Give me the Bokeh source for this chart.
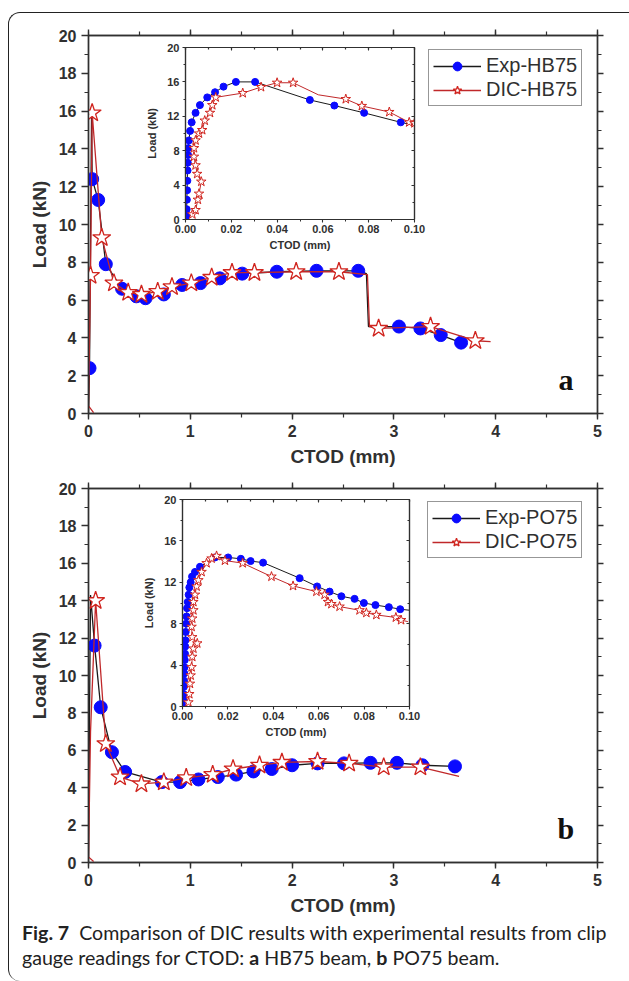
from bokeh.plotting import figure
from bokeh.models import (GridBox, Div, Legend, LegendItem, Label, LinearAxis,
                          SingleIntervalTicker, Range1d, NumeralTickFormatter)
from bokeh.embed import file_html
from bokeh.resources import INLINE

# ---------------- data ----------------
# Panel a (HB75), main chart: CTOD (mm) vs load (kN); flag 1 = point carries a marker
exp_a_x = [0.0, 0.01, 0.03, 0.036, 0.095, 0.17, 0.33, 0.47, 0.56, 0.74, 0.92, 1.10, 1.29, 1.51,
           1.85, 2.24, 2.65, 2.73, 2.75, 3.05, 3.26, 3.46, 3.66]
exp_a_y = [0.0, 2.4, 15.8, 12.4, 11.3, 7.9, 6.6, 6.2, 6.1, 6.3, 6.8, 6.9, 7.15, 7.4,
           7.5, 7.55, 7.55, 7.4, 4.6, 4.6, 4.5, 4.15, 3.75]
exp_a_m = [0, 1, 0, 1, 1, 1, 1, 1, 1, 1, 1, 1, 1, 1, 1, 1, 1, 0, 0, 1, 1, 1, 1]

dic_a_x = [0.05, 0.0, 0.02, 0.036, 0.13, 0.25, 0.39, 0.52, 0.68, 0.82, 1.01, 1.21, 1.41, 1.63,
           2.04, 2.46, 2.74, 2.76, 2.85, 3.36, 3.80, 3.95]
dic_a_y = [0.05, 0.4, 7.3, 15.9, 9.3, 6.9, 6.4, 6.3, 6.45, 6.7, 6.9, 7.2, 7.45, 7.45,
           7.5, 7.5, 7.35, 4.6, 4.5, 4.6, 3.85, 3.8]
dic_a_m = [0, 0, 1, 1, 1, 1, 1, 1, 1, 1, 1, 1, 1, 1, 1, 1, 0, 0, 1, 1, 1, 0]

# Panel a inset (0 - 0.10 mm)
exp_ai_x = [0.0, 0.0004, 0.0005, 0.0006, 0.0007, 0.0008, 0.0009, 0.0010, 0.0011, 0.0012, 0.0015,
            0.0020, 0.0027, 0.0044, 0.0063, 0.0095, 0.0129, 0.0166, 0.0220, 0.0304, 0.0543,
            0.0650, 0.0780, 0.0940, 0.1000]
exp_ai_y = [0.0, 0.5, 1.2, 2.3, 3.4, 4.5, 5.7, 6.6, 7.5, 8.3, 9.2,
            10.3, 11.3, 12.4, 13.3, 14.2, 14.8, 15.45, 16.0, 16.0, 13.9,
            13.25, 12.4, 11.3, 10.95]
exp_ai_m = [1] * 24 + [0]

dic_ai_x = [0.0030, 0.0044, 0.0054, 0.0059, 0.0069, 0.0051, 0.0044, 0.0037, 0.0037, 0.0044,
            0.0059, 0.0073, 0.0084, 0.0107, 0.0117, 0.0132, 0.0250, 0.0330, 0.0400, 0.0470,
            0.0580, 0.0700, 0.0770, 0.0890, 0.0977, 0.1000]
dic_ai_y = [0.6, 1.1, 2.3, 3.0, 4.4, 5.3, 6.3, 7.3, 8.3, 9.2,
            10.0, 10.4, 11.5, 12.4, 13.3, 14.2, 14.7, 15.4, 15.9, 15.9,
            14.5, 14.0, 13.2, 12.5, 11.3, 11.2]
dic_ai_m = [1] * 20 + [0] + [1] * 5

# Panel b (PO75), main chart
exp_b_x = [0.0, 0.01, 0.02, 0.06, 0.12, 0.23, 0.36, 0.72, 0.90, 1.08, 1.27, 1.45, 1.62, 1.80,
           2.00, 2.25, 2.51, 2.77, 3.03, 3.28, 3.60]
exp_b_y = [0.0, 8.0, 14.3, 11.6, 8.3, 5.9, 4.84, 4.3, 4.3, 4.44, 4.57, 4.7, 4.87, 5.0,
           5.2, 5.3, 5.3, 5.33, 5.33, 5.2, 5.14]
exp_b_m = [0, 0, 0] + [1] * 18

dic_b_x = [0.05, 0.0, 0.02, 0.07, 0.17, 0.31, 0.52, 0.74, 0.96, 1.22, 1.42, 1.68, 1.90, 2.25,
           2.56, 2.90, 3.26, 3.64]
dic_b_y = [0.05, 0.3, 7.0, 14.0, 6.35, 4.57, 4.2, 4.3, 4.53, 4.7, 5.0, 5.2, 5.35, 5.4,
           5.3, 5.1, 5.1, 4.6]
dic_b_m = [0, 0, 0] + [1] * 14 + [0]

# Panel b inset
exp_bi_x = [0.0, 0.0004, 0.0005, 0.0006, 0.0007, 0.0008, 0.0009, 0.0010, 0.0011, 0.0012, 0.0013,
            0.0014, 0.0016, 0.0018, 0.0020, 0.0023, 0.0027, 0.0030, 0.0036, 0.0042, 0.0055,
            0.0077, 0.0143, 0.0201, 0.0257, 0.0300, 0.0355, 0.0516, 0.0593, 0.0648, 0.0700,
            0.0758, 0.0799, 0.0850, 0.0909, 0.0959, 0.1000]
exp_bi_y = [0.0, 0.6, 1.2, 1.9, 2.5, 3.2, 3.8, 4.5, 5.1, 5.8, 6.4,
            7.2, 8.0, 8.7, 9.5, 10.1, 10.8, 11.5, 12.0, 12.55, 13.0,
            13.5, 14.4, 14.4, 14.27, 14.05, 13.9, 12.4, 11.6, 11.1, 10.65,
            10.4, 10.0, 9.8, 9.6, 9.4, 9.3]
exp_bi_m = [1] * 36 + [0]

dic_bi_x = [0.0026, 0.0030, 0.0033, 0.0036, 0.0040, 0.0043, 0.0048, 0.0065, 0.0043, 0.0040,
            0.0043, 0.0048, 0.0048, 0.0055, 0.0062, 0.0070, 0.0084, 0.0106, 0.0128, 0.0150,
            0.0187, 0.0265, 0.0392, 0.0487, 0.0590, 0.0626, 0.0641, 0.0656, 0.0692, 0.0780,
            0.0810, 0.0854, 0.0940, 0.0963, 0.0993]
dic_bi_y = [0.4, 1.2, 2.2, 3.0, 3.8, 4.8, 5.6, 6.1, 6.7, 7.7,
            8.5, 9.3, 10.1, 10.8, 11.6, 12.2, 13.0, 13.85, 14.3, 14.55,
            14.1, 13.85, 12.55, 11.65, 11.1, 10.8, 10.1, 9.9, 9.65, 9.3,
            9.05, 8.85, 8.6, 8.35, 8.2]
dic_bi_m = [1] * 34 + [0]

labels_a = ["Exp-HB75", "DIC-HB75"]
labels_b = ["Exp-PO75", "DIC-PO75"]

# ---------------- styling ----------------
FONT = "Liberation Sans"
AXC = "#303030"
BLUE = "#0a0aff"
EXPLINE = "#1a1a1a"
RED = "#d0241e"
DICLINE = "#c0282a"
# every figure gets the same borders (the grid aligns plot borders), margins place them
BL, BR, BT, BB = 88, 32, 35, 67


def sel(xs, ys, flags):
    return ([x for x, f in zip(xs, flags) if f], [y for y, f in zip(ys, flags) if f])


def style_axis(ax, size, out, inn, mout, minn, standoff, hide=False,
               label=None, label_size=None, label_standoff=5):
    ax.axis_line_color = AXC
    ax.axis_line_width = 1.4
    ax.major_tick_line_color = AXC
    ax.major_tick_line_width = 1.4
    ax.minor_tick_line_color = AXC
    ax.minor_tick_line_width = 1.2
    ax.major_tick_out = out
    ax.major_tick_in = inn
    ax.minor_tick_out = mout
    ax.minor_tick_in = minn
    ax.major_label_text_font = FONT
    ax.major_label_text_font_style = "bold"
    ax.major_label_text_color = AXC
    ax.major_label_text_font_size = size
    ax.major_label_standoff = standoff
    if hide:
        ax.major_label_text_font_size = "0px"
        ax.major_label_text_alpha = 0
        ax.major_label_standoff = 0
    if label is not None:
        ax.axis_label = label
        ax.axis_label_text_font = FONT
        ax.axis_label_text_font_style = "bold"
        ax.axis_label_text_font_size = label_size
        ax.axis_label_text_color = AXC
        ax.axis_label_standoff = label_standoff


def base_fig(frame_w, frame_h, xr, yr):
    p = figure(width=BL + frame_w + BR, height=BT + frame_h + BB,
               x_range=xr, y_range=yr,
               min_border_left=BL, min_border_right=BR,
               min_border_top=BT, min_border_bottom=BB,
               output_backend="svg", toolbar_location=None)
    p.border_fill_color = None
    p.background_fill_color = "white"
    p.outline_line_color = AXC
    p.xgrid.visible = False
    p.ygrid.visible = False
    return p


def main_panel(ex, ey, em, dx, dy, dm, labels, letter, frame_h, legend_loc):
    p = base_fig(509, frame_h, Range1d(0, 5), Range1d(0, 20))
    p.outline_line_width = 1.4
    p.xaxis.ticker = SingleIntervalTicker(interval=1, num_minor_ticks=2)
    p.yaxis.ticker = SingleIntervalTicker(interval=2, num_minor_ticks=2)
    style_axis(p.xaxis[0], "16px", 6, 0, 4, 0, 5, label="CTOD (mm)", label_size="19px",
               label_standoff=6)
    style_axis(p.yaxis[0], "16px", 7, 0, 4, 0, 5, label="Load (kN)", label_size="19px",
               label_standoff=6)
    top_ax = LinearAxis(ticker=SingleIntervalTicker(interval=1, num_minor_ticks=2))
    right_ax = LinearAxis(ticker=SingleIntervalTicker(interval=2, num_minor_ticks=2))
    style_axis(top_ax, "0px", 6, 0, 4, 0, 0, hide=True)
    style_axis(right_ax, "0px", 6, 0, 4, 0, 0, hide=True)
    p.add_layout(top_ax, "above")
    p.add_layout(right_ax, "right")

    el = p.line(ex, ey, line_color=EXPLINE, line_width=1.3)
    mx, my = sel(ex, ey, em)
    ec = p.scatter(mx, my, marker="circle", size=13, fill_color=BLUE, line_color=BLUE)
    dl = p.line(dx, dy, line_color=DICLINE, line_width=1.3)
    sx, sy = sel(dx, dy, dm)
    ds = p.scatter(sx, sy, marker="star", size=19, fill_color="white", line_color=RED,
                   line_width=1.3)

    leg = Legend(items=[LegendItem(label=labels[0], renderers=[el, ec]),
                        LegendItem(label=labels[1], renderers=[dl, ds])],
                 location=legend_loc, orientation="vertical")
    leg.label_text_font = FONT
    leg.label_text_font_size = "20px"
    leg.label_text_color = AXC
    leg.glyph_width = 48
    leg.glyph_height = 22
    leg.label_height = 22
    leg.spacing = 1
    leg.padding = 4
    leg.margin = 0
    leg.label_standoff = 5
    leg.border_line_color = AXC
    leg.border_line_width = 1.6
    leg.background_fill_alpha = 1
    p.add_layout(leg)

    p.add_layout(Label(x=4.69, y=1.8, text=letter, text_font="Liberation Serif",
                       text_font_style="bold", text_font_size="30px",
                       text_align="center", text_baseline="middle", text_color="#111111"))
    return p


def inset_panel(ex, ey, em, dx, dy, dm, frame_w, frame_h):
    p = base_fig(frame_w, frame_h, Range1d(0, 0.1), Range1d(0, 20))
    p.outline_line_width = 1.2
    p.xaxis.ticker = SingleIntervalTicker(interval=0.02, num_minor_ticks=2)
    p.yaxis.ticker = SingleIntervalTicker(interval=4, num_minor_ticks=2)
    p.xaxis.formatter = NumeralTickFormatter(format="0.00")
    style_axis(p.xaxis[0], "11px", 3, 0, 2, 0, 2, label="CTOD (mm)", label_size="11px",
               label_standoff=3)
    style_axis(p.yaxis[0], "11px", 3, 0, 2, 0, 3, label="Load (kN)", label_size="11px",
               label_standoff=6)
    for ax in (p.xaxis[0], p.yaxis[0]):
        ax.axis_line_width = 1.2
        ax.major_tick_line_width = 1.1
        ax.minor_tick_line_width = 1.0
    top_ax = LinearAxis(ticker=SingleIntervalTicker(interval=0.02, num_minor_ticks=2))
    right_ax = LinearAxis(ticker=SingleIntervalTicker(interval=4, num_minor_ticks=2))
    style_axis(top_ax, "0px", 0, 3, 0, 2, 0, hide=True)
    style_axis(right_ax, "0px", 0, 3, 0, 2, 0, hide=True)
    for ax in (top_ax, right_ax):
        ax.axis_line_width = 1.2
        ax.major_tick_line_width = 1.1
    p.add_layout(top_ax, "above")
    p.add_layout(right_ax, "right")

    p.line(ex, ey, line_color=EXPLINE, line_width=1.0)
    mx, my = sel(ex, ey, em)
    p.scatter(mx, my, marker="circle", size=7, fill_color=BLUE, line_color=BLUE)
    p.line(dx, dy, line_color=DICLINE, line_width=1.0)
    sx, sy = sel(dx, dy, dm)
    p.scatter(sx, sy, marker="star", size=10, fill_color="white", line_color=RED,
              line_width=1.0)
    return p


pa = main_panel(exp_a_x, exp_a_y, exp_a_m, dic_a_x, dic_a_y, dic_a_m, labels_a, "a",
                frame_h=378, legend_loc=(340, 307))
pa.margin = (35 - BT, 0, 0, 88 - BL)

pb = main_panel(exp_b_x, exp_b_y, exp_b_m, dic_b_x, dic_b_y, dic_b_m, labels_b, "b",
                frame_h=374, legend_loc=(339, 304))
pb.margin = (488 - BT, 0, 0, 88 - BL)

ia = inset_panel(exp_ai_x, exp_ai_y, exp_ai_m, dic_ai_x, dic_ai_y, dic_ai_m, 229, 172)
ia.margin = (47 - BT, 0, 0, 185 - BL)

ib = inset_panel(exp_bi_x, exp_bi_y, exp_bi_m, dic_bi_x, dic_bi_y, dic_bi_m, 227, 207)
ib.margin = (499 - BT, 0, 0, 182 - BL)

caption = Div(
    text=('<div style="font-family: Lato, \'Open Sans\', sans-serif; font-size:19.6px; '
          'line-height:25px; color:#222; white-space:nowrap;">'
          '<b>Fig. 7</b>&nbsp; Comparison of DIC results with experimental results from clip<br>'
          'gauge readings for CTOD: <b>a</b> HB75 beam, <b>b</b> PO75 beam.</div>'),
    width=605, height=55, margin=(920, 0, 0, 22))

frame = Div(text="", width=621, height=969, margin=(12, 0, 0, 8),
            styles={"border-top": "1.5px solid #222", "border-left": "1.5px solid #222",
                    "border-top-left-radius": "12px", "border-bottom-left-radius": "12px",
                    "box-sizing": "border-box"})

root = GridBox(children=[(pa, 0, 0), (pb, 0, 0), (ia, 0, 0), (ib, 0, 0),
                         (caption, 0, 0), (frame, 0, 0)],
               width=629, height=981)

open("out.html", "w").write(file_html(root, INLINE))
